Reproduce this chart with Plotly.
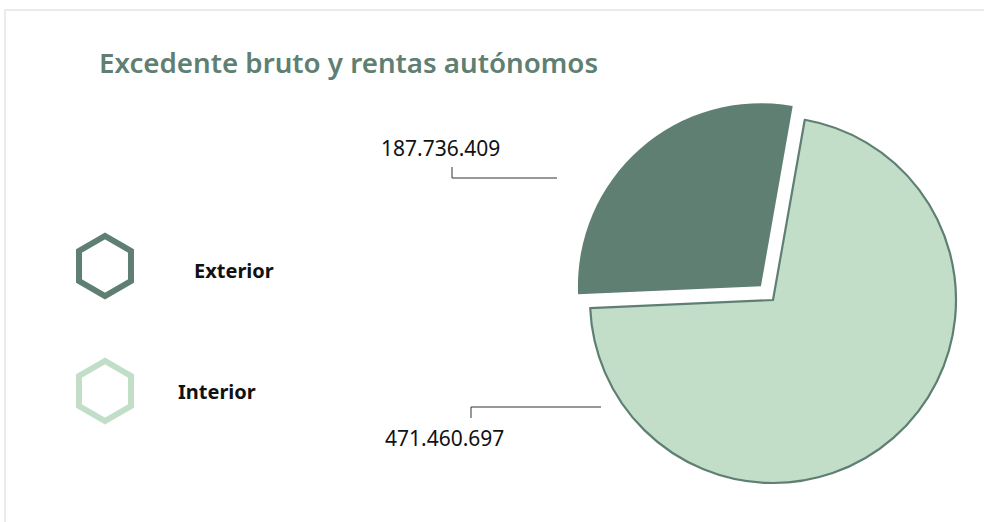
import plotly.graph_objects as go

# ---- data ----
categories = ["Interior", "Exterior"]
values = [471460697, 187736409]
colors = ["#c2dec8", "#5e7f72"]
title_text = "Excedente bruto y rentas autónomos"

W, H = 984, 522


def px(x):
    return x / W


def py(y):
    return 1 - y / H


def fmt(v):
    return f"{v:,}".replace(",", ".")


FONT = "Noto Sans"

fig = go.Figure()

# pie geometry (layout): centre and radius in pixels
cx, cy, r, pull = 773, 300, 183, 0.10
half = r * (1 + pull)
fig.add_trace(go.Pie(
    labels=categories,
    values=values,
    sort=False,
    direction="clockwise",
    rotation=10,
    pull=[0, pull],
    marker=dict(colors=colors, line=dict(color=["#5e7f72", "#5e7f72"], width=[2.2, 0])),
    textinfo="none",
    hoverinfo="label+value",
    showlegend=False,
    domain=dict(x=[px(cx - half), px(cx + half)], y=[py(cy + half), py(cy - half)]),
))

# custom hexagon legend
legend_y = {"Exterior": 266, "Interior": 391}
legend_text_pos = {"Exterior": (192, 270), "Interior": (176, 391)}
for name, col in zip(categories, colors):
    fig.add_trace(go.Scatter(
        x=[105], y=[legend_y[name]], mode="markers",
        marker=dict(symbol="hexagon-open", size=60, color=col, line=dict(color=col, width=6)),
        showlegend=False, hoverinfo="skip",
    ))
    tx, ty = legend_text_pos[name]
    fig.add_annotation(
        x=px(tx), y=py(ty), xref="paper", yref="paper",
        text=name, showarrow=False, xanchor="left", yanchor="middle",
        font=dict(family=FONT, size=20, color="#111111", weight=700),
    )

# value labels with elbow leader lines
label_pos = {"Exterior": (440, 148), "Interior": (444, 438)}
for name, v in zip(categories, values):
    lx, ly = label_pos[name]
    fig.add_annotation(
        x=px(lx), y=py(ly), xref="paper", yref="paper",
        text=fmt(v), showarrow=False, xanchor="center", yanchor="middle",
        font=dict(family=FONT, size=21, color="#111111"),
    )

line_style = dict(color="#333333", width=1)
fig.add_shape(type="line", xref="paper", yref="paper", x0=px(452), y0=py(167), x1=px(452), y1=py(178), line=line_style)
fig.add_shape(type="line", xref="paper", yref="paper", x0=px(452), y0=py(178), x1=px(557), y1=py(178), line=line_style)
fig.add_shape(type="line", xref="paper", yref="paper", x0=px(471), y0=py(407), x1=px(601), y1=py(407), line=line_style)
fig.add_shape(type="line", xref="paper", yref="paper", x0=px(471), y0=py(407), x1=px(471), y1=py(418), line=line_style)

# outer frame
fig.add_shape(type="rect", xref="paper", yref="paper", x0=px(5), y0=py(540), x1=px(1000), y1=py(10),
              line=dict(color="#ebebeb", width=2), layer="below")

fig.update_layout(
    width=W, height=H,
    margin=dict(l=0, r=0, t=0, b=0),
    paper_bgcolor="white", plot_bgcolor="rgba(0,0,0,0)",
    xaxis=dict(range=[0, W], visible=False, domain=[0, 1], fixedrange=True),
    yaxis=dict(range=[H, 0], visible=False, domain=[0, 1], fixedrange=True),
    annotations=list(fig.layout.annotations) + [dict(
        x=px(97), y=py(62), xref="paper", yref="paper", text=title_text,
        showarrow=False, xanchor="left", yanchor="middle",
        font=dict(family=FONT, size=27.7, color="#5e7f72", weight=600),
    )],
)

fig.write_html("out.html", config={"displayModeBar": False},
               post_script="document.body.style.margin='0';")
